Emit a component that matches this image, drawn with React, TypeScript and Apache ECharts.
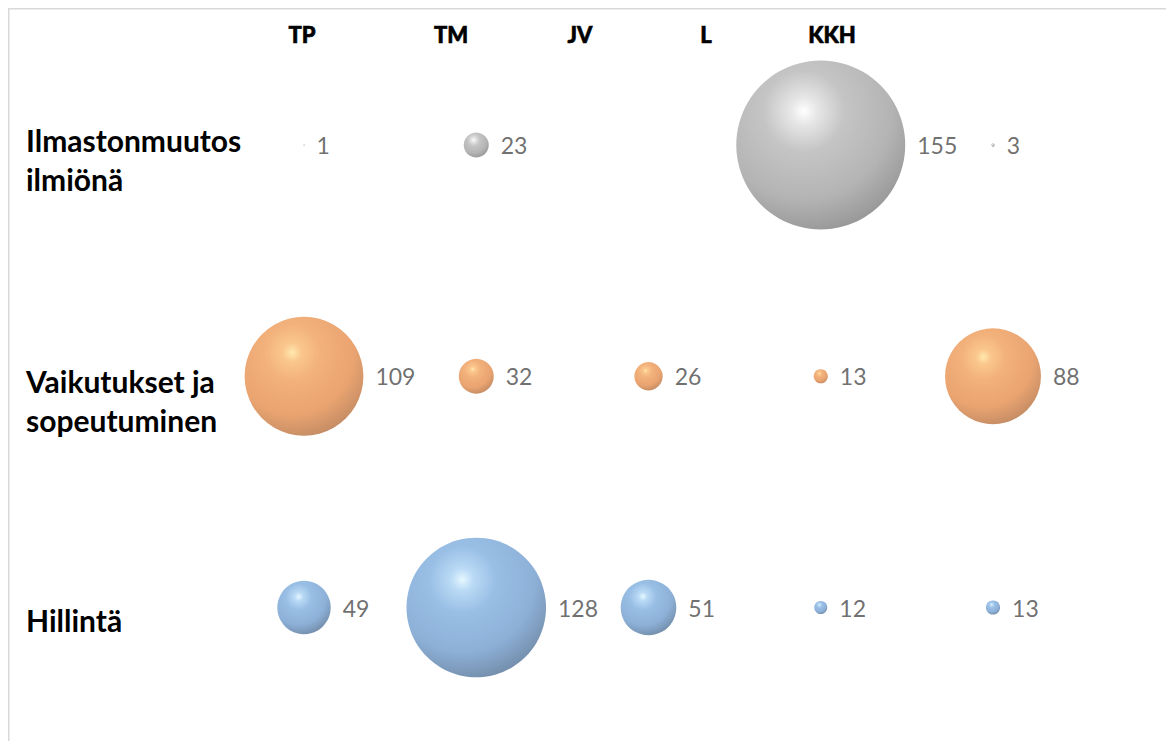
import React, { useEffect, useRef } from "react";
import * as echarts from "echarts";

const columns = ["TP", "TM", "JV", "L", "KKH"];
const rows = ["Ilmastonmuutos\nilmiönä", "Vaikutukset ja\nsopeutuminen", "Hillintä"];
// value per column (null = no bubble)
const ilmastonmuutosValues = [1, 23, null, 155, 3];
const vaikutuksetValues = [109, 32, 26, 13, 88];
const hillintaValues = [49, 128, 51, 12, 13];

const rowValues = [ilmastonmuutosValues, vaikutuksetValues, hillintaValues];

const sphere = (stops: string[]) => ({
  type: "radial",
  x: 0.4,
  y: 0.3,
  r: 0.8,
  colorStops: [
    { offset: 0, color: stops[0] },
    { offset: 0.1, color: stops[1] },
    { offset: 0.3, color: stops[2] },
    { offset: 0.65, color: stops[3] },
    { offset: 0.88, color: stops[4] },
    { offset: 1, color: stops[5] },
  ],
});

const palettes = [
  ["#ffffff", "#e0e0e0", "#b6b6b6", "#a1a1a1", "#828282", "#6b6b6b"],
  ["#ffe39a", "#f9b870", "#ef9d5a", "#e48d4d", "#bc733f", "#985a33"],
  ["#dff6ff", "#a9d1f3", "#80afdf", "#709ccd", "#55779d", "#445d7c"],
];

export default function App() {
  const ref = useRef<HTMLDivElement>(null);
  useEffect(() => {
    if (!ref.current) return;
    const chart = echarts.init(ref.current, null, { renderer: "svg" });
    const series = rows.map((r, ri) => ({
      type: "scatter",
      name: r,
      data: rowValues[ri]
        .map((v, ci) => (v == null ? null : [ci, ri, v]))
        .filter((d) => d != null),
      symbol: "circle",
      symbolSize: (d: number[]) => d[2] * 1.09,
      itemStyle: { color: sphere(palettes[ri]) },
      label: {
        show: true,
        position: "right",
        distance: 12,
        formatter: (p: any) => String(p.value[2]),
        color: "#4a4a4a",
        fontSize: 23,
        fontFamily: "Lato",
      },
    }));
    const graphic: any[] = [
      { type: "rect", shape: { x: 0, y: 0, width: 1158, height: 1.5 }, style: { fill: "#d9d9d9" }, silent: true },
      { type: "rect", shape: { x: 0, y: 0, width: 1.5, height: 733 }, style: { fill: "#d9d9d9" }, silent: true },
    ];
    const headerX = [294, 443, 572, 698, 824];
    columns.forEach((c, i) => {
      graphic.push({
        type: "text",
        x: headerX[i],
        y: 26,
        style: {
          text: c,
          fontFamily: "Lato",
          fontWeight: 900,
          fontSize: 22,
          fill: "#000000",
          stroke: "#000000",
          lineWidth: 0.6,
          align: "center",
          verticalAlign: "middle",
        },
      });
    });
    const rowLabelY = [112, 353, 592];
    rows.forEach((r, i) => {
      graphic.push({
        type: "text",
        x: 18,
        y: rowLabelY[i],
        style: {
          text: r,
          fontFamily: "Lato",
          fontWeight: "bold",
          fontSize: 30,
          lineHeight: 39,
          fill: "#000000",
          align: "left",
          verticalAlign: "top",
        },
      });
    });
    chart.setOption({
      animation: false,
      grid: { left: 296, right: 173, top: 137, bottom: 133.5 },
      xAxis: { type: "value", min: 0, max: 4, show: false },
      yAxis: { type: "value", min: 0, max: 2, inverse: true, show: false },
      series,
      graphic,
    });
    return () => chart.dispose();
  }, []);
  return <div ref={ref} style={{ width: 1158, height: 733 }} />;
}
